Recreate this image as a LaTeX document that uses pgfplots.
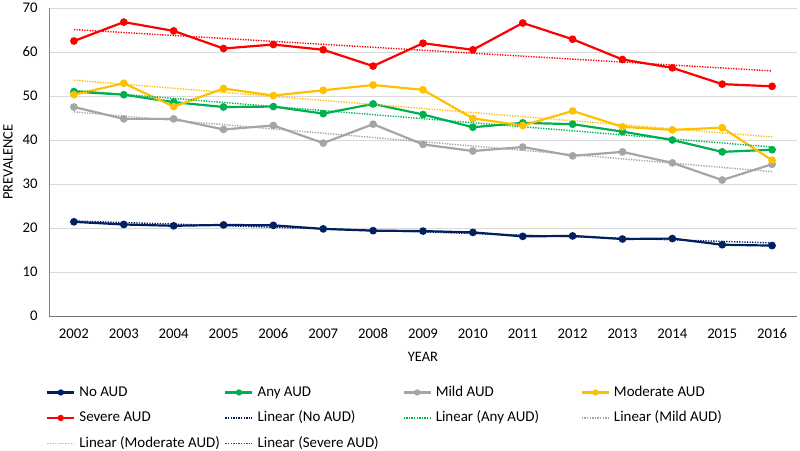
\documentclass[border=0pt]{standalone}
\usepackage{pgfplots}
\pgfplotsset{compat=1.18}
\usepackage{fontspec}
\setmainfont{Carlito}
\definecolor{cnav}{HTML}{002060}
\definecolor{cgrn}{HTML}{00B050}
\definecolor{cgry}{HTML}{A5A5A5}
\definecolor{cyel}{HTML}{FFC000}
\definecolor{cred}{HTML}{FF0000}
\definecolor{cgrid}{HTML}{D9D9D9}
\begin{document}
\begin{tikzpicture}
\begin{axis}[
  at={(0,0)}, anchor=south west,
  scale only axis, width=748bp, height=308bp,
  xmin=2001.5, xmax=2016.5, ymin=0, ymax=70,
  xtick={2002,2003,...,2016}, ytick={0,10,...,70},
  /pgf/number format/assume math mode=true,
  /pgf/number format/1000 sep={},
  axis x line=bottom, axis y line=left,
  x axis line style={-, draw=gray!90!black, line width=0.9bp},
  y axis line style={-, draw=gray, line width=0.8bp},
  major tick length=0pt,
  ymajorgrids, grid style={cgrid, line width=0.8bp},
  tick label style={font=\fontsize{14.8}{16}\selectfont, text=black},
  yticklabel style={xshift=-8bp},
  xticklabel style={yshift=-9bp},
  xlabel={YEAR}, ylabel={PREVALENCE},
  label style={font=\fontsize{14.5}{16}\selectfont},
  xlabel style={at={(axis description cs:0.5,-0.1331)}, anchor=center},
  ylabel style={at={(axis description cs:-0.0548,0.5)}, anchor=center},
  legend columns=4,
  legend cell align=left,
  legend style={at={(axis description cs:0,0)}, anchor=north west, xshift=-3bp, yshift=-69bp,
    draw=none, fill=none, inner sep=0pt, row sep=11bp,
    font=\fontsize{15}{17}\selectfont,
    nodes={inner sep=0pt, text height=11bp, text depth=3.5bp},
    /tikz/every odd column/.append style={column sep=4bp}},
  legend image code/.code={\draw[mark repeat=2, mark phase=2, #1, mark size=2bp] plot coordinates {(0bp,0bp) (13.5bp,0bp) (27bp,0bp)};},
  every axis plot/.append style={line width=2.2bp},
  series/.style={color=#1, mark=*, mark size=2.7bp, mark options={solid, fill=#1, draw=#1}},
  trend/.style={color=#1, draw=#1, line width=1.4bp, dash pattern=on 1.3bp off 1.3bp},
]
\addplot[series=cnav] coordinates {(2002,21.4) (2003,20.8) (2004,20.5) (2005,20.7) (2006,20.6) (2007,19.8) (2008,19.4) (2009,19.3) (2010,19.0) (2011,18.1) (2012,18.2) (2013,17.5) (2014,17.6) (2015,16.2) (2016,16.0)};
\addlegendentry{\makebox[145bp][l]{No AUD}}
\addplot[series=cgrn] coordinates {(2002,51.0) (2003,50.3) (2004,48.6) (2005,47.5) (2006,47.6) (2007,46.0) (2008,48.2) (2009,45.8) (2010,42.9) (2011,43.9) (2012,43.6) (2013,41.9) (2014,40.0) (2015,37.3) (2016,37.8)};
\addlegendentry{\makebox[145bp][l]{Any AUD}}
\addplot[series=cgry] coordinates {(2002,47.5) (2003,44.8) (2004,44.8) (2005,42.4) (2006,43.3) (2007,39.3) (2008,43.6) (2009,39.0) (2010,37.5) (2011,38.4) (2012,36.4) (2013,37.3) (2014,34.8) (2015,30.9) (2016,34.5)};
\addlegendentry{\makebox[145bp][l]{Mild AUD}}
\addplot[series=cyel] coordinates {(2002,50.3) (2003,52.9) (2004,47.6) (2005,51.7) (2006,50.1) (2007,51.3) (2008,52.5) (2009,51.4) (2010,44.9) (2011,43.3) (2012,46.6) (2013,43.0) (2014,42.3) (2015,42.8) (2016,35.4)};
\addlegendentry{\makebox[145bp][l]{Moderate AUD}}
\addplot[series=cred] coordinates {(2002,62.5) (2003,66.8) (2004,64.8) (2005,60.8) (2006,61.7) (2007,60.5) (2008,56.8) (2009,62.0) (2010,60.5) (2011,66.6) (2012,62.9) (2013,58.3) (2014,56.4) (2015,52.7) (2016,52.2)};
\addlegendentry{\makebox[145bp][l]{Severe AUD}}
\addplot[trend=cnav] coordinates {(2002,21.6) (2016,16.6)};
\addlegendentry{\makebox[145bp][l]{Linear (No AUD)}}
\addplot[trend=cgrn] coordinates {(2002,51.3) (2016,38.4)};
\addlegendentry{\makebox[145bp][l]{Linear (Any AUD)}}
\addplot[trend=cgry] coordinates {(2002,46.4) (2016,32.8)};
\addlegendentry{\makebox[145bp][l]{Linear (Mild AUD)}}
\addplot[trend=cyel] coordinates {(2002,53.6) (2016,40.7)};
\addlegendentry{\makebox[145bp][l]{Linear (Moderate AUD)}}
\addplot[trend=cred] coordinates {(2002,65.1) (2016,55.7)};
\addlegendentry{\makebox[145bp][l]{Linear (Severe AUD)}}
\end{axis}
\pgfresetboundingbox
\path (-49bp,-135bp) rectangle (751bp,316bp);
\end{tikzpicture}
\end{document}
